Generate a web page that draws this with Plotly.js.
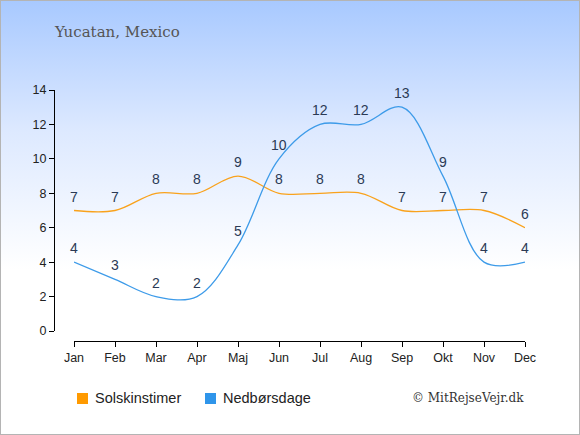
<!DOCTYPE html>
<html>
<head>
<meta charset="utf-8">
<script src="https://cdn.plot.ly/plotly-3.0.1.min.js"></script>
<style>
html,body{margin:0;padding:0;}
#wrap{width:580px;height:435px;box-sizing:border-box;border:1px solid #b4b4b4;
background:linear-gradient(to bottom,#a8c9ff 0%,#dde9ff 30%,#ffffff 62%,#ffffff 100%);position:relative;}
#chart{position:absolute;left:-1px;top:-1px;width:580px;height:435px;}
</style>
</head>
<body>
<div id="wrap"><div id="chart"></div></div>
<script>
const months = ["Jan","Feb","Mar","Apr","Maj","Jun","Jul","Aug","Sep","Okt","Nov","Dec"];
const sunHours = [7,7,8,8,9,8,8,8,7,7,7,6];
const rainDays = [4,3,2,2,5,10,12,12,13,9,4,4];
const yTicks = [0,2,4,6,8,10,12,14];
const seriesNames = ["Solskinstimer","Nedbørsdage"];
const colors = ["#f9a21c","#3d9be9"];

const labelFont = {family:"Liberation Sans, Arial, sans-serif", size:14, color:"#2b3a55"};
const idx = months.map((m,i)=>i);

const traces = [
  {x:idx, y:sunHours, mode:"lines", line:{color:colors[0], width:1.3, shape:"spline", smoothing:1},
   hoverinfo:"none", showlegend:false},
  {x:idx, y:rainDays, mode:"lines", line:{color:colors[1], width:1.3, shape:"spline", smoothing:1},
   hoverinfo:"none", showlegend:false}
];

const W=580,H=435, ml=54, mr=55, mt=90, mb=94;
const pw=W-ml-mr, ph=H-mt-mb;
const tickFont = {family:"Liberation Sans, Arial, sans-serif", size:12.5, color:"#222"};

const valueLabels = [];
[sunHours, rainDays].forEach(series => {
  series.forEach((v,i) => valueLabels.push({
    text:String(v), x:i, y:v, xref:"x", yref:"y", showarrow:false,
    xanchor:"center", yanchor:"middle", yshift:14, font:labelFont
  }));
});

const layout = {
  width:W, height:H,
  margin:{l:ml,r:mr,t:mt,b:mb,pad:0},
  paper_bgcolor:"rgba(0,0,0,0)", plot_bgcolor:"rgba(0,0,0,0)",
  showlegend:false,
  xaxis:{domain:[20/pw,1], range:[0,11], tickvals:idx, ticktext:months,
    showgrid:false, zeroline:false, showline:true, linecolor:"#000", linewidth:1.3,
    ticks:"outside", ticklen:5, tickcolor:"#000", tickwidth:1, tickfont:tickFont,
    anchor:"free", position:0, fixedrange:true},
  yaxis:{domain:[10/ph,1], range:[0,14], tickvals:yTicks,
    showgrid:false, zeroline:false, showline:true, linecolor:"#000", linewidth:1.3,
    ticks:"outside", ticklen:5, tickcolor:"#000", tickwidth:1, tickfont:tickFont,
    anchor:"free", position:0, fixedrange:true},
  shapes:[
    {type:"rect", xref:"paper", yref:"paper", x0:(77-ml)/pw, x1:(88-ml)/pw,
     y0:(H-mb-404)/ph, y1:(H-mb-393)/ph, fillcolor:"#ff9a00", line:{width:0}},
    {type:"rect", xref:"paper", yref:"paper", x0:(205-ml)/pw, x1:(216-ml)/pw,
     y0:(H-mb-404)/ph, y1:(H-mb-393)/ph, fillcolor:"#2f95ea", line:{width:0}}
  ],
  annotations:valueLabels.concat([
    {text:"Yucatan, Mexico", xref:"paper", yref:"paper", x:(52-ml)/pw, y:(H-mb-32)/ph,
     xanchor:"left", yanchor:"middle", showarrow:false,
     font:{family:"DejaVu Serif, Georgia, serif", size:15, color:"#555"}},
    {text:seriesNames[0], xref:"paper", yref:"paper", x:(93-ml)/pw, y:(H-mb-398)/ph,
     xanchor:"left", yanchor:"middle", showarrow:false,
     font:{family:"Liberation Sans, Arial, sans-serif", size:14.5, color:"#222"}},
    {text:seriesNames[1], xref:"paper", yref:"paper", x:(221-ml)/pw, y:(H-mb-398)/ph,
     xanchor:"left", yanchor:"middle", showarrow:false,
     font:{family:"Liberation Sans, Arial, sans-serif", size:14.5, color:"#222"}},
    {text:"© MitRejseVejr.dk", xref:"paper", yref:"paper", x:(526-ml)/pw, y:(H-mb-398)/ph,
     xanchor:"right", yanchor:"middle", showarrow:false,
     font:{family:"DejaVu Serif, Georgia, serif", size:12, color:"#333"}}
  ])
};
Plotly.newPlot("chart", traces, layout, {staticPlot:true, displayModeBar:false});
</script>
</body>
</html>
